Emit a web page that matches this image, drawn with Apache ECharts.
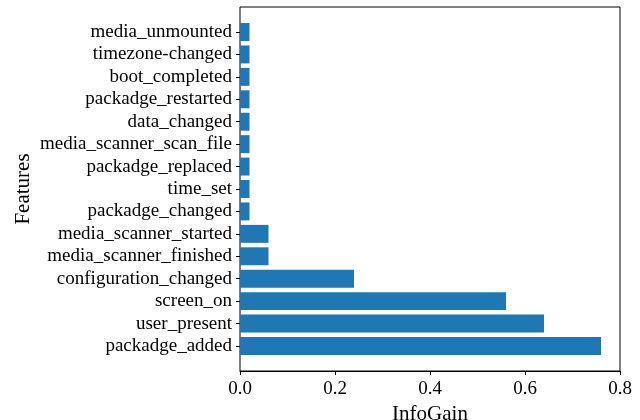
<!DOCTYPE html>
<html><head><meta charset="utf-8">
<script src="https://cdn.jsdelivr.net/npm/echarts@6/dist/echarts.min.js"></script>
<style>html,body{margin:0;padding:0;background:#fff}#c{width:640px;height:420px}</style>
</head><body><div id="c"></div>
<script>
const features = ['packadge_added','user_present','screen_on','configuration_changed','media_scanner_finished','media_scanner_started','packadge_changed','time_set','packadge_replaced','media_scanner_scan_file','data_changed','packadge_restarted','boot_completed','timezone-changed','media_unmounted'];
const infoGain = [0.76,0.64,0.56,0.24,0.06,0.06,0.02,0.02,0.02,0.02,0.02,0.02,0.02,0.02,0.02];
const xTicks = [0, 0.8, 0.2];

const font = '"Liberation Serif","Times New Roman",serif';
const chart = echarts.init(document.getElementById('c'), null, {renderer:'canvas'});
chart.setOption({
  animation:false,
  grid:[
    {left:240, right:20, top:7, bottom:49, containLabel:false, outerBoundsMode:'none',
     show:true, borderColor:'#000', borderWidth:1, backgroundColor:'transparent'},
    {left:240, right:20, top:20.8, height:336.4, containLabel:false, outerBoundsMode:'none'}
  ],
  xAxis:[
    {gridIndex:0, type:'value', min:xTicks[0], max:xTicks[1], interval:xTicks[2],
     name:'InfoGain', nameLocation:'middle', nameGap:29,
     nameTextStyle:{fontFamily:font, fontSize:21, color:'#000'},
     axisLine:{show:true, lineStyle:{color:'#000', width:1}},
     axisTick:{show:true, inside:false, length:4, lineStyle:{color:'#000'}},
     axisLabel:{fontFamily:font, fontSize:19, color:'#000', margin:9, formatter:v=>v.toFixed(1)},
     splitLine:{show:false}},
    {gridIndex:1, type:'value', min:xTicks[0], max:xTicks[1], show:false}
  ],
  yAxis:[
    {gridIndex:0, type:'value', min:0, max:1,
     name:'Features', nameLocation:'middle', nameGap:206, nameRotate:90,
     nameTextStyle:{fontFamily:font, fontSize:21, color:'#000'},
     axisLine:{show:false}, axisTick:{show:false}, axisLabel:{show:false}, splitLine:{show:false}},
    {gridIndex:1, type:'category', data:features,
     axisLine:{show:false},
     axisTick:{show:true, alignWithLabel:true, inside:false, length:4, lineStyle:{color:'#000'}},
     axisLabel:{fontFamily:font, fontSize:19, color:'#000', margin:8, interval:0}}
  ],
  series:[{
    type:'bar', xAxisIndex:1, yAxisIndex:1, data:infoGain, barWidth:'80%',
    itemStyle:{color:'#1f77b4'}
  }]
});
</script></body></html>
